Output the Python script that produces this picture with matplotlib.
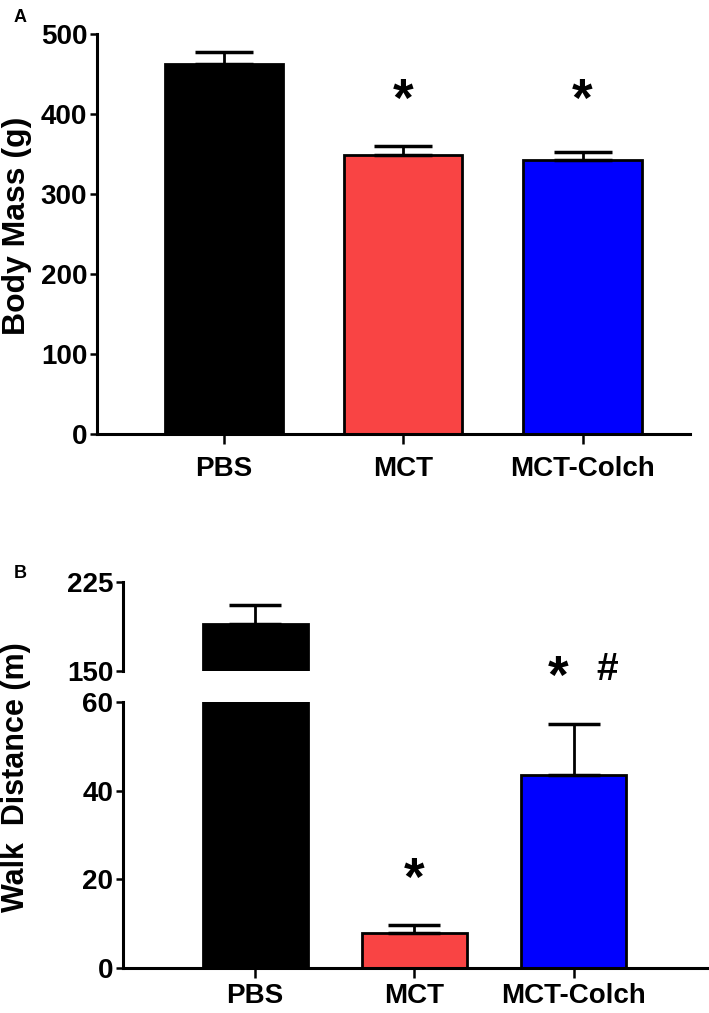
import matplotlib
matplotlib.use('Agg')
import matplotlib.pyplot as plt
import numpy as np

plt.rcParams['font.family'] = ['Liberation Sans', 'DejaVu Sans']
plt.rcParams['font.weight'] = 'bold'

groups = ['PBS', 'MCT', 'MCT-Colch']
colors = ['#000000', '#F94444', '#0000FF']

# panel A: body mass (g), mean and SEM (upper only)
mass_mean = [463, 349, 343]
mass_sem = [14, 11, 9]
mass_marks = ['', '*', '*']

# panel B: walk distance (m)
walk_mean = [190, 8, 43.6]
walk_sem = [16, 1.7, 11.5]

fig = plt.figure(figsize=(7.09, 10.13), dpi=100)


def style_axis(ax, bottom=True):
    ax.spines['top'].set_visible(False)
    ax.spines['right'].set_visible(False)
    ax.spines['left'].set_linewidth(2.2)
    ax.spines['bottom'].set_linewidth(2.2)
    if not bottom:
        ax.spines['bottom'].set_visible(False)
        ax.tick_params(axis='x', bottom=False, labelbottom=False)
    ax.tick_params(axis='y', length=5, width=1.8, pad=2, labelsize=20)
    ax.tick_params(axis='x', length=7, width=1.8, labelsize=20)
    for lab in ax.get_yticklabels() + ax.get_xticklabels():
        lab.set_fontweight('bold')


x = np.arange(len(groups))

# ---- A ----
axA = fig.add_axes([97/709, 1 - 434/1013, (690-97)/709, 400/1013])
axA.bar(x, mass_mean, width=0.66, color=colors, edgecolor='black', linewidth=2)
axA.errorbar(x, mass_mean, yerr=[np.zeros(3), mass_sem], fmt='none', ecolor='black',
             elinewidth=2, capsize=21, capthick=2.5)
axA.set_ylim(0, 500)
axA.set_xlim(-0.71, 2.6)
axA.set_yticks([0, 100, 200, 300, 400, 500])
axA.set_xticks(x)
axA.set_xticklabels(groups)
style_axis(axA)
axA.tick_params(axis='x', pad=9)
for i, m in enumerate(mass_marks):
    if m:
        axA.text(i, 415, m, ha='center', va='center', fontsize=38, fontweight='bold')
axA.set_ylabel('Body Mass (g)', fontsize=23, fontweight='bold')
axA.yaxis.set_label_coords(-0.11, 0.52)
fig.text(14/709, 1 - 18/1013, 'A', fontsize=13, fontweight='bold', va='center')

# ---- B ----
left = 123/709
width = 1 - left
axBlo = fig.add_axes([left, 1 - 968/1013, width, (968-702)/1013])
axBhi = fig.add_axes([left, 1 - 671/1013, width, (671-582)/1013])
for ax in (axBlo, axBhi):
    ax.bar(x, walk_mean, width=0.66, color=colors, edgecolor='black', linewidth=2)
    ax.errorbar(x, walk_mean, yerr=[np.zeros(3), walk_sem], fmt='none', ecolor='black',
                elinewidth=2, capsize=18.5, capthick=2.5)
    ax.set_xlim(-0.83, 2.85)
axBlo.set_ylim(0, 60)
axBlo.set_yticks([0, 20, 40, 60])
axBlo.set_xticks(x)
axBlo.set_xticklabels(groups)
style_axis(axBlo)
axBlo.tick_params(axis='x', pad=4)
axBhi.set_ylim(150, 225)
axBhi.set_yticks([150, 225])
style_axis(axBhi, bottom=False)

axBlo.text(1, 19.7, '*', ha='center', va='center', fontsize=38, fontweight='bold')
axBhi.text(1.9, 143.5, '*', ha='center', va='center', fontsize=38, fontweight='bold')
axBhi.text(2.21, 151, '#', ha='center', va='center', fontsize=28, fontweight='bold')

fig.text(16/709, 1 - 777/1013, 'Walk  Distance (m)', rotation=90, ha='center', va='center',
         fontsize=22, fontweight='bold')
fig.text(14/709, 1 - 573/1013, 'B', fontsize=13, fontweight='bold', va='center')

fig.savefig('out.png', dpi=100)
